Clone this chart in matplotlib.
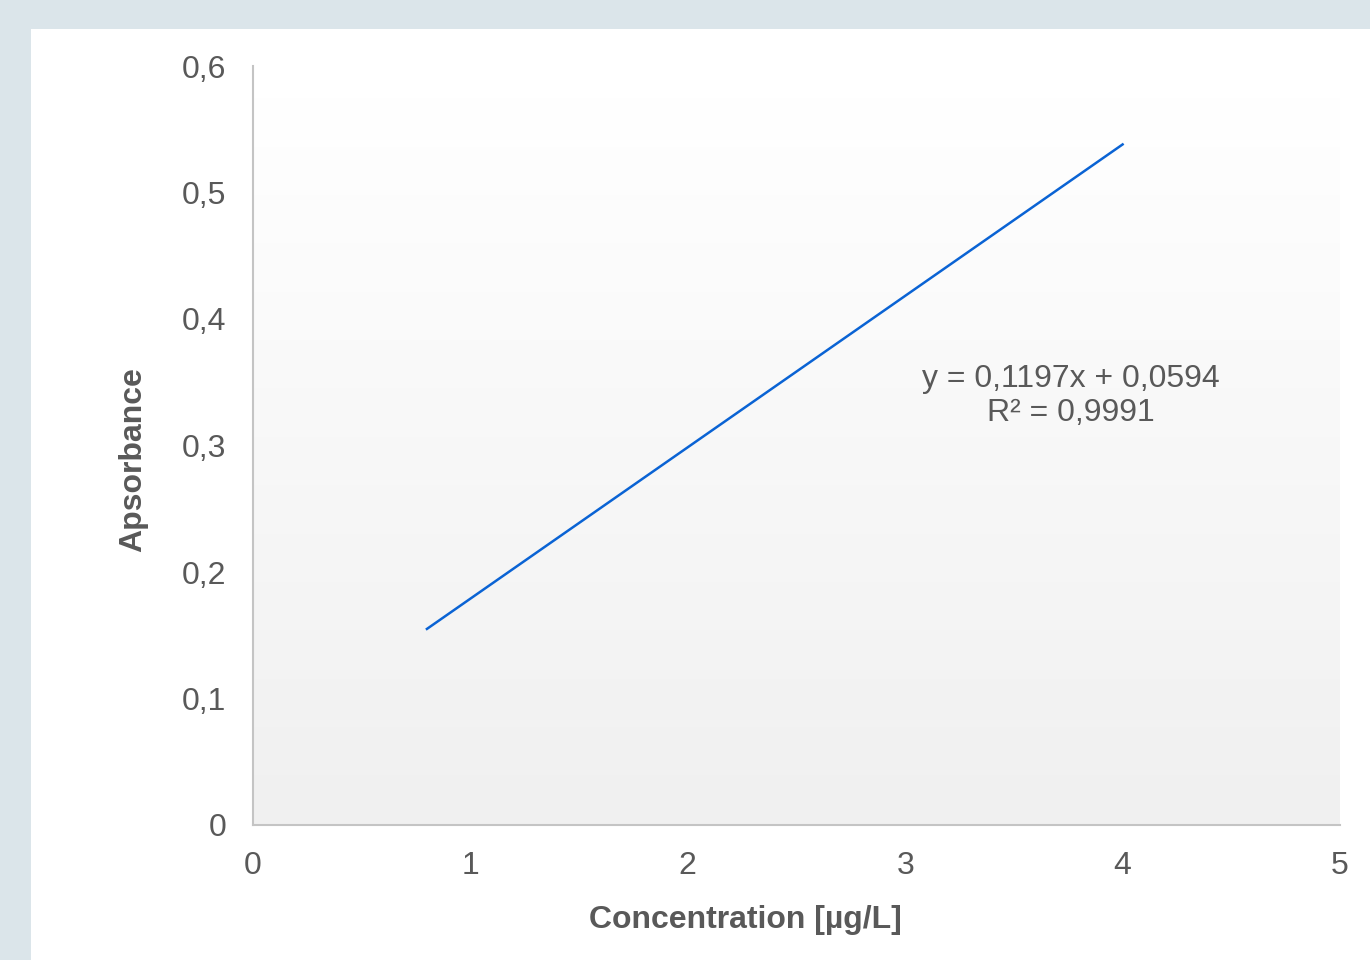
import numpy as np
import matplotlib
matplotlib.use('Agg')
import matplotlib.pyplot as plt
from matplotlib.patches import Rectangle

# Trendline endpoints
conc = [0.8, 4.0]
absorb = [0.155, 0.538]
x_ticks = [0, 1, 2, 3, 4, 5]
y_ticks = [0, 0.1, 0.2, 0.3, 0.4, 0.5, 0.6]
y_tick_labels = ['0', '0,1', '0,2', '0,3', '0,4', '0,5', '0,6']
eq_text = 'y = 0,1197x + 0,0594\nR² = 0,9991'

plt.rcParams['font.family'] = ['Liberation Sans', 'DejaVu Sans']
text_col = '#595959'
axis_col = '#c4c4c4'

fig = plt.figure(figsize=(13.7, 9.6), dpi=100)
fig.patch.set_facecolor('#dbe5ea')
# white chart panel
fig.add_artist(Rectangle((31 / 1370, 0), 1, 1 - 29 / 960, transform=fig.transFigure,
                         facecolor='white', edgecolor='none', zorder=-10))

ax = fig.add_axes([253 / 1370, 135 / 960, (1340 - 253) / 1370, (825 - 66) / 960])
ax.set_facecolor('none')
ax.set_xlim(0, 5)
ax.set_ylim(0, 0.6)

# plot area gradient (white at top -> light grey at bottom)
grad = np.linspace(0, 1, 256).reshape(-1, 1)
ax.imshow(grad, extent=[0, 5, 0, 0.575], origin='upper', aspect='auto',
          cmap=matplotlib.colors.LinearSegmentedColormap.from_list('g', ['#ffffff', '#f0f0f0']),
          zorder=0)

ax.plot(conc, absorb, color='#0a63d4', linewidth=1.8, zorder=3)

ax.text(3.76, 0.314, eq_text, ha='center', va='bottom', fontsize=23,
        color=text_col, linespacing=1.18)

for s in ['top', 'right']:
    ax.spines[s].set_visible(False)
for s in ['left', 'bottom']:
    ax.spines[s].set_color(axis_col)
    ax.spines[s].set_linewidth(1.5)

ax.set_xticks(x_ticks)
ax.set_xticklabels([str(t) for t in x_ticks])
ax.set_yticks(y_ticks)
ax.set_yticklabels(y_tick_labels)
ax.tick_params(axis='both', length=0, labelsize=23, labelcolor=text_col)
ax.tick_params(axis='x', pad=19)
ax.tick_params(axis='y', pad=19)

ax.set_xlabel('Concentration [µg/L]', fontsize=23, fontweight='bold', color=text_col)
ax.set_ylabel('Apsorbance', fontsize=23, fontweight='bold', color=text_col)
ax.xaxis.set_label_coords(0.4526, -0.105)
ax.yaxis.set_label_coords(-0.0966, 0.481)

plt.savefig('out.png', dpi=100, facecolor=fig.get_facecolor())
plt.close()
